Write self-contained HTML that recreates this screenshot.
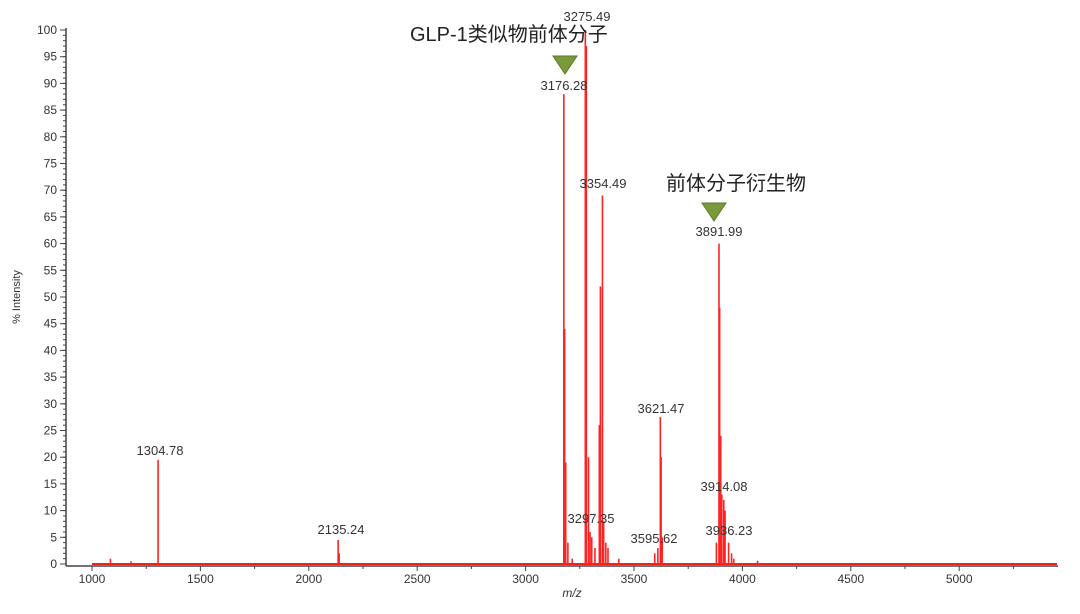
<!DOCTYPE html>
<html><head><meta charset="utf-8"><style>
body{margin:0;background:#fff}
svg text{font-family:"Liberation Sans","Noto Sans CJK SC",sans-serif}
</style></head><body>
<svg width="1080" height="609" viewBox="0 0 1080 609" xmlns="http://www.w3.org/2000/svg">
<g stroke="#444" stroke-width="1.5" fill="none">
<line x1="66" y1="28" x2="66" y2="566"/>
<line x1="66" y1="566" x2="1058" y2="566"/>
</g>
<g id="yt" stroke="#444" stroke-width="1" font-size="12" fill="#333" text-anchor="end"></g>
<g id="xt" stroke="#444" stroke-width="1" font-size="12" fill="#333" text-anchor="middle"></g>
<text x="20" y="297" font-size="11" fill="#333" text-anchor="middle" transform="rotate(-90 20 297)">% Intensity</text>
<text x="572" y="597" font-size="12" fill="#333" font-style="italic" text-anchor="middle">m/z</text>
<line x1="92" y1="564" x2="1057" y2="564" stroke="#e22" stroke-width="2"/>
<g id="pk" stroke="#f22" stroke-width="1.6"></g>
<g font-size="13" fill="#333" text-anchor="middle">
<text x="160" y="455">1304.78</text>
<text x="341" y="534">2135.24</text>
<text x="564" y="90">3176.28</text>
<text x="587" y="21">3275.49</text>
<text x="603" y="188">3354.49</text>
<text x="591" y="523">3297.35</text>
<text x="654" y="543">3595.62</text>
<text x="661" y="413">3621.47</text>
<text x="719" y="236">3891.99</text>
<text x="724" y="491">3914.08</text>
<text x="729" y="535">3936.23</text>
</g>
<g font-size="20" fill="#222">
<text x="410" y="41">GLP-1类似物前体分子</text>
<text x="666" y="190">前体分子衍生物</text>
</g>
<polygon points="553,56 577,56 565,74" fill="#7a9a3a" stroke="#5b7a2a"/>
<polygon points="702,203 726,203 714,221" fill="#7a9a3a" stroke="#5b7a2a"/>
</svg>
<script>
var ns="http://www.w3.org/2000/svg";
function el(p,t,a,txt){var e=document.createElementNS(ns,t);for(var k in a)e.setAttribute(k,a[k]);if(txt!=null)e.textContent=txt;p.appendChild(e);}
var yt=document.getElementById('yt');
for(var v=0;v<=100;v+=5){var y=564-5.34*v;el(yt,'line',{x1:60,y1:y,x2:66,y2:y});el(yt,'text',{x:57,y:y+4,stroke:'none'},v);}
for(var v=0;v<100;v+=1){var y=564-5.34*v;el(yt,'line',{x1:63,y1:y,x2:66,y2:y});}
var xt=document.getElementById('xt');
function X(m){return 92+(m-1000)*0.2168;}
for(var m=1000;m<=5000;m+=500){var x=X(m);el(xt,'line',{x1:x,y1:566,x2:x,y2:571});el(xt,'text',{x:x,y:583,stroke:'none'},m);}
for(var m=1250;m<=5250;m+=500){var x=X(m);el(xt,'line',{x1:x,y1:566,x2:x,y2:569});}
var pk=document.getElementById('pk');
var P=[[1085,1],[1180,0.5],[1304.78,19.5],[2135.24,4.5],[2140,2],[3176.28,88],[3180,44],[3185,19],[3195,4],[3215,1],[3275.49,100],[3280,97],[3290,20],[3297.35,6],[3305,5],[3320,3],[3340,26],[3345,52],[3354.49,69],[3360,8],[3370,4],[3380,3],[3430,1],[3595.62,2],[3610,3],[3621.47,27.5],[3625,20],[3630,5],[3880,4],[3891.99,60],[3895,48],[3900,24],[3905,13],[3914.08,12],[3920,10],[3936.23,4],[3950,2],[3960,1],[4070,0.6]];
P.forEach(function(p){var x=X(p[0]);el(pk,'line',{x1:x,y1:564,x2:x,y2:564-5.34*p[1]});});
</script>
</body></html>
